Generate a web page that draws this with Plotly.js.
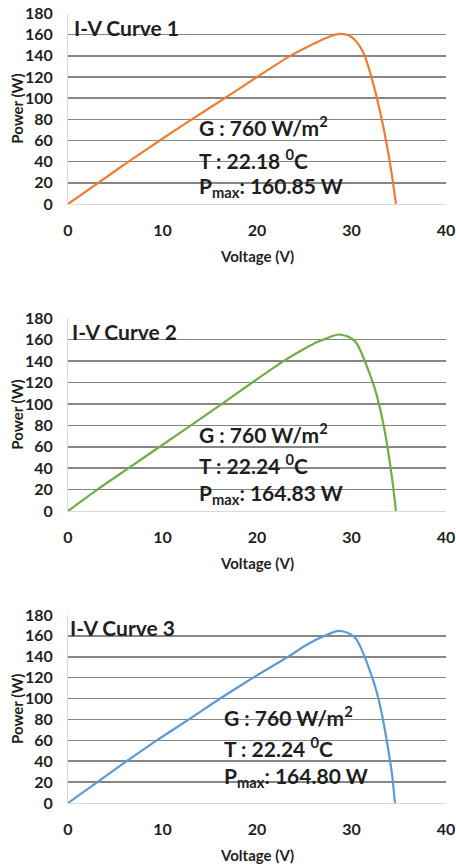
<!DOCTYPE html>
<html>
<head>
<meta charset="utf-8">
<script src="https://cdn.plot.ly/plotly-3.0.1.min.js"></script>
<style>
  html, body { margin: 0; padding: 0; background: #ffffff; }
  #chart { width: 456px; height: 867px; }
</style>
</head>
<body>
<div id="chart"></div>
<script>
// Measured power–voltage sweeps of the PV module (V in volts, P in watts)
const voltage1 = [0, 3.2, 6.4, 9.7, 13.1, 16.6, 20.0, 23.5, 25.0, 26.5, 27.5, 28.2, 28.9, 29.5, 30.0, 30.5, 31.0, 31.5, 32.0, 32.5, 33.0, 33.5, 34.0, 34.35, 34.7];
const power1   = [0, 20, 40, 60, 80, 100, 120, 140, 147, 153.5, 157.5, 159.8, 160.85, 159.9, 157.8, 153.7, 147.3, 137.7, 123.2, 106.9, 88.1, 67, 42.5, 22.7, 0];

const voltage2 = [0, 3.1, 6.4, 9.7, 13.0, 16.3, 19.5, 22.8, 24.5, 26.0, 27.0, 28.0, 28.7, 29.0, 29.5, 30.0, 30.5, 31.0, 31.5, 32.0, 32.5, 33.0, 33.5, 34.0, 34.35, 34.7];
const power2   = [0, 20, 40, 60, 80, 100, 120, 140, 149, 156.3, 160, 163.5, 164.83, 164.4, 163.3, 161.1, 157.1, 148.8, 138.0, 126.1, 113.4, 96.4, 75.4, 48.6, 26.8, 0];

const voltage3 = [0, 3.1, 6.2, 9.4, 12.8, 16.1, 19.6, 23.3, 25.0, 26.3, 27.3, 28.1, 28.7, 29.0, 29.5, 30.0, 30.5, 31.0, 31.5, 32.0, 32.5, 33.0, 33.5, 34.0, 34.3, 34.6];
const power3   = [0, 20, 40, 60, 80, 100, 120, 140, 150, 156.5, 160.5, 163.6, 164.80, 164.4, 163.3, 161.0, 157.0, 148.5, 137.5, 125.0, 111.5, 94.0, 71.5, 45.0, 26.5, 0];

// Panel labels and test conditions
const curveNames  = ['I-V Curve 1', 'I-V Curve 2', 'I-V Curve 3'];
const irradiance  = ['760', '760', '760'];
const temperature = ['22.18', '22.24', '22.24'];
const pmaxValues  = ['160.85', '164.83', '164.80'];

// Axis ticks
const xTicks = [0, 10, 20, 30, 40];
const yTicks = [0, 20, 40, 60, 80, 100, 120, 140, 160, 180];

const lineColors = ['#ED7D31', '#70AD47', '#5B9BD5'];

const FONT = 'Lato, "Open Sans", sans-serif';
const TEXT_COLOR = '#1f1f1f';

const sweeps = [
  { v: voltage1, p: power1 },
  { v: voltage2, p: power2 },
  { v: voltage3, p: power3 }
];

// Panel geometry (paper fractions) and label placement inside each panel
const panelY = [[0.7647, 0.9844], [0.4106, 0.6329], [0.0738, 0.2907]];
const xDomain = [0.1491, 0.9781];
const nameX = [0.010, 0.005, 0.001];
const nameY = [0.929, 0.930, 0.932];
const infoX = [0.341, 0.341, 0.407];
const infoY = [[0.409, 0.236, 0.087], [0.407, 0.245, 0.087], [0.465, 0.298, 0.138]];

const traces = sweeps.map((s, i) => ({
  type: 'scatter',
  mode: 'lines',
  x: s.v,
  y: s.p,
  xaxis: i === 0 ? 'x' : 'x' + (i + 1),
  yaxis: i === 0 ? 'y' : 'y' + (i + 1),
  line: { color: lineColors[i], width: 2.2, shape: 'spline', smoothing: 0.6 },
  hoverinfo: 'x+y'
}));

const layout = {
  width: 456,
  height: 867,
  margin: { l: 0, r: 0, t: 0, b: 0 },
  paper_bgcolor: '#ffffff',
  plot_bgcolor: '#ffffff',
  showlegend: false,
  font: { family: FONT, color: TEXT_COLOR },
  annotations: []
};

for (let i = 0; i < 3; i++) {
  const sfx = i === 0 ? '' : String(i + 1);
  const xa = 'x' + sfx, ya = 'y' + sfx;

  layout['xaxis' + sfx] = {
    domain: xDomain,
    anchor: ya,
    range: [0, 40],
    tickvals: xTicks,
    ticktext: xTicks.map(String),
    showgrid: false,
    zeroline: false,
    showline: true,
    linecolor: '#d9d9d9',
    linewidth: 1,
    ticks: '',
    ticklabelstandoff: 12,
    tickfont: { family: FONT, size: 16, weight: 'bold', color: TEXT_COLOR },
    fixedrange: true
  };
  layout['yaxis' + sfx] = {
    domain: panelY[i],
    anchor: xa,
    range: [0, 180],
    tickvals: yTicks,
    ticktext: yTicks.map(String),
    showgrid: true,
    gridcolor: '#868686',
    gridwidth: 1.5,
    zeroline: false,
    showline: true,
    linecolor: '#d9d9d9',
    linewidth: 1,
    ticks: '',
    ticklabelstandoff: 11,
    tickfont: { family: FONT, size: 16, weight: 'bold', color: TEXT_COLOR },
    fixedrange: true
  };

  const dx = xa + ' domain', dy = ya + ' domain';

  // Panel name in the top-left corner
  layout.annotations.push({
    xref: dx, yref: dy, x: nameX[i], y: nameY[i],
    xanchor: 'left', yanchor: 'middle', showarrow: false,
    text: '<b>' + curveNames[i] + '</b>',
    font: { family: FONT, size: 21, color: TEXT_COLOR }
  });

  // Test conditions
  const infoLines = [
    '<b>G : ' + irradiance[i] + ' W/m<sup>2</sup></b>',
    '<b>T : ' + temperature[i] + ' <sup>0</sup>C</b>',
    '<b>P<sub>max</sub>: ' + pmaxValues[i] + ' W</b>'
  ];
  infoLines.forEach((t, k) => {
    layout.annotations.push({
      xref: dx, yref: dy, x: infoX[i], y: infoY[i][k],
      xanchor: 'left', yanchor: 'middle', showarrow: false,
      text: t,
      font: { family: FONT, size: 21, color: TEXT_COLOR }
    });
  });

  // Axis titles
  layout.annotations.push({
    xref: dx, yref: dy, x: 0.5, y: 0, yshift: -52,
    xanchor: 'center', yanchor: 'middle', showarrow: false,
    text: '<b>Voltage (V)</b>',
    font: { family: FONT, size: 15, color: TEXT_COLOR }
  });
  layout.annotations.push({
    xref: 'paper', yref: dy, x: 17 / 456, y: 0.5,
    xanchor: 'center', yanchor: 'middle', showarrow: false,
    textangle: -90,
    text: '<b>Power (W)</b>',
    font: { family: FONT, size: 15, color: TEXT_COLOR }
  });
}

Plotly.newPlot('chart', traces, layout, { displayModeBar: false, staticPlot: true });
</script>
</body>
</html>
